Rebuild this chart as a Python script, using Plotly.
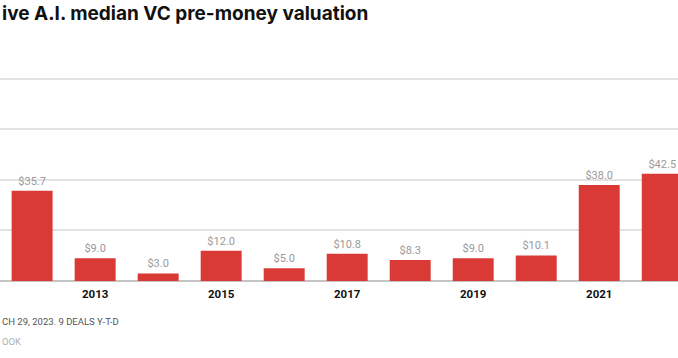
import plotly.graph_objects as go

years = [2012, 2013, 2014, 2015, 2016, 2017, 2018, 2019, 2020, 2021, 2022]
valuations = [35.7, 9.0, 3.0, 12.0, 5.0, 10.8, 8.3, 9.0, 10.1, 38.0, 42.5]
tick_years = [2013, 2015, 2017, 2019, 2021]
tick_labels = ["2013", "2015", "2017", "2019", "2021"]

title_text = "ive A.I. median VC pre-money valuation"
note_text = "CH 29, 2023. 9 DEALS Y-T-D"
source_text = "OOK"

BAR = "#d93a35"

fig = go.Figure()
fig.add_trace(go.Bar(
    x=years,
    y=valuations,
    marker=dict(color=BAR, line=dict(width=0)),
    text=[f"${v:.1f}" for v in valuations],
    textposition="outside",
    textfont=dict(family="Roboto", size=11, color="#9a9a9a"),
    cliponaxis=False,
    hoverinfo="skip",
))

fig.update_layout(
    width=678,
    height=358,
    margin=dict(l=0, r=0, t=40, b=77, pad=0),
    paper_bgcolor="white",
    plot_bgcolor="white",
    showlegend=False,
    bargap=0.35,
    xaxis=dict(
        range=[2011.49, 2022.25],
        tickmode="array",
        tickvals=tick_years,
        ticktext=tick_labels,
        showgrid=False,
        zeroline=False,
        showline=False,
        ticks="",
        ticklabelstandoff=4,
        tickfont=dict(family="Roboto", size=11.5, color="#111111", weight="bold"),
        fixedrange=True,
    ),
    yaxis=dict(
        range=[0, 95.4],
        tickmode="array",
        tickvals=[20, 40, 60, 80],
        showticklabels=False,
        showgrid=True,
        gridcolor="#e2e2e2",
        gridwidth=1.5,
        zeroline=True,
        zerolinecolor="#c4c4c4",
        zerolinewidth=1.5,
        showline=False,
        ticks="",
        fixedrange=True,
    ),
    annotations=[
        dict(text=title_text, xref="paper", yref="paper", x=0, y=1.112,
             xanchor="left", yanchor="middle", showarrow=False,
             font=dict(family="Inter", size=19, color="#111111", weight="bold")),
        dict(text=note_text, xref="paper", yref="paper", x=0, y=-0.169,
             xanchor="left", yanchor="middle", showarrow=False,
             font=dict(family="Roboto", size=9.5, color="#555555")),
        dict(text=source_text, xref="paper", yref="paper", x=0, y=-0.252,
             xanchor="left", yanchor="middle", showarrow=False,
             font=dict(family="Roboto", size=9.5, color="#b0b0b0")),
    ],
)

fig.write_html(
    "out.html",
    config={"displayModeBar": False},
    post_script="document.body.style.margin='0';document.body.style.overflow='hidden';",
)
